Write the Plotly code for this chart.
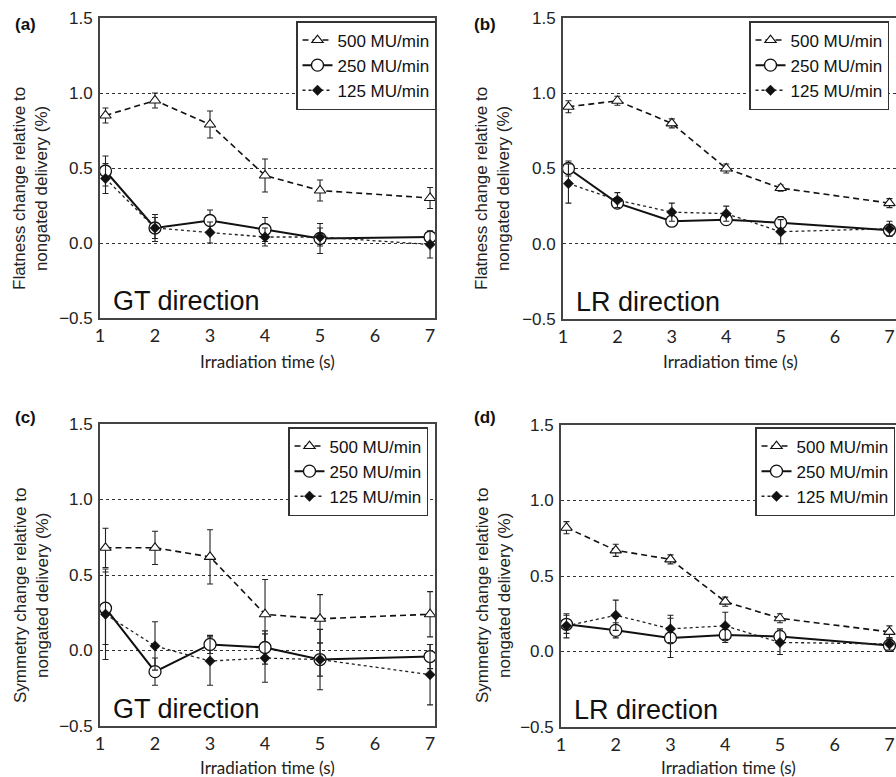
import plotly.graph_objects as go

# ---------------- data ----------------
time_s = [1.1, 2, 3, 4, 5, 7]
series_names = ["500 MU/min", "250 MU/min", "125 MU/min"]
x_ticks = [1, 2, 3, 4, 5, 6, 7]
y_ticks = [-0.5, 0.0, 0.5, 1.0, 1.5]

# (a) Flatness, GT direction
flat_gt_500 = [0.85, 0.95, 0.79, 0.45, 0.35, 0.30]
flat_gt_500_err = [0.05, 0.05, 0.09, 0.11, 0.07, 0.07]
flat_gt_250 = [0.48, 0.10, 0.15, 0.09, 0.03, 0.04]
flat_gt_250_err = [0.10, 0.09, 0.07, 0.08, 0.10, 0.04]
flat_gt_125 = [0.43, 0.10, 0.07, 0.04, 0.04, -0.01]
flat_gt_125_err = [0.10, 0.07, 0.07, 0.06, 0.06, 0.09]

# (b) Flatness, LR direction
flat_lr_500 = [0.91, 0.95, 0.80, 0.50, 0.37, 0.27]
flat_lr_500_err = [0.04, 0.03, 0.03, 0.03, 0.02, 0.03]
flat_lr_250 = [0.50, 0.27, 0.15, 0.16, 0.14, 0.09]
flat_lr_250_err = [0.05, 0.03, 0.03, 0.03, 0.04, 0.04]
flat_lr_125 = [0.40, 0.29, 0.21, 0.20, 0.08, 0.10]
flat_lr_125_err = [0.13, 0.05, 0.06, 0.05, 0.08, 0.05]

# (c) Symmetry, GT direction
sym_gt_500 = [0.68, 0.68, 0.62, 0.24, 0.21, 0.24]
sym_gt_500_err = [0.13, 0.11, 0.18, 0.23, 0.16, 0.15]
sym_gt_250 = [0.28, -0.14, 0.04, 0.02, -0.06, -0.04]
sym_gt_250_err = [0.24, 0.09, 0.06, 0.11, 0.11, 0.08]
sym_gt_125 = [0.24, 0.03, -0.07, -0.05, -0.06, -0.16]
sym_gt_125_err = [0.30, 0.16, 0.16, 0.16, 0.20, 0.20]

# (d) Symmetry, LR direction
sym_lr_500 = [0.82, 0.67, 0.61, 0.33, 0.22, 0.13]
sym_lr_500_err = [0.04, 0.04, 0.03, 0.03, 0.03, 0.04]
sym_lr_250 = [0.18, 0.14, 0.09, 0.11, 0.10, 0.04]
sym_lr_250_err = [0.06, 0.05, 0.13, 0.05, 0.05, 0.04]
sym_lr_125 = [0.17, 0.24, 0.15, 0.17, 0.06, 0.05]
sym_lr_125_err = [0.08, 0.10, 0.09, 0.09, 0.08, 0.04]

panel_letters = ["(a)", "(b)", "(c)", "(d)"]
direction_labels = ["GT direction", "LR direction", "GT direction", "LR direction"]
y_titles = ["Flatness change relative to<br>nongated delivery (%)",
            "Flatness change relative to<br>nongated delivery (%)",
            "Symmetry change relative to<br>nongated delivery (%)",
            "Symmetry change relative to<br>nongated delivery (%)"]
x_title = "Irradiation time (s)"

panels = [
    [(flat_gt_500, flat_gt_500_err), (flat_gt_250, flat_gt_250_err), (flat_gt_125, flat_gt_125_err)],
    [(flat_lr_500, flat_lr_500_err), (flat_lr_250, flat_lr_250_err), (flat_lr_125, flat_lr_125_err)],
    [(sym_gt_500, sym_gt_500_err), (sym_gt_250, sym_gt_250_err), (sym_gt_125, sym_gt_125_err)],
    [(sym_lr_500, sym_lr_500_err), (sym_lr_250, sym_lr_250_err), (sym_lr_125, sym_lr_125_err)],
]

# ---------------- layout geometry (pixels) ----------------
W, H = 896, 777
def px(x):
    return x / W
def py(y):
    return 1 - y / H

# plot boxes: left, right, top, bottom (px), x range end
boxes = [
    (100, 435, 18, 318, 7.09),
    (563, 896, 18, 319, 7.12),
    (100, 435, 424, 726, 7.09),
    (561, 896, 425, 727, 7.12),
]
legend_pos = [(436, 21), (889, 21), (428, 427), (895, 427)]
letter_pos = [(25, 24), (485, 24), (25, 417), (485, 417)]
ytitle_pos = [(31, 189), (493, 189), (31, 596), (493, 596)]
xtitle_y = [361, 361, 767, 767]

AR = "Arial, 'Liberation Sans', sans-serif"
CAL = "Lato, 'Open Sans', sans-serif"

styles = [
    dict(line=dict(color="#111", width=1.6, dash="6px,4px"),
         marker=dict(symbol="triangle-up", size=10, color="white",
                     line=dict(color="#111", width=1.1))),
    dict(line=dict(color="#111", width=2.0),
         marker=dict(symbol="circle", size=12, color="white",
                     line=dict(color="#111", width=1.3))),
    dict(line=dict(color="#222", width=1.3, dash="dot"),
         marker=dict(symbol="diamond", size=8, color="#111",
                     line=dict(color="#111", width=0.5))),
]

fig = go.Figure()
layout = dict(width=W, height=H, autosize=False,
              margin=dict(l=0, r=0, t=0, b=0, pad=0, autoexpand=False),
              paper_bgcolor="white", plot_bgcolor="white",
              showlegend=True, annotations=[])

for i, (box, data) in enumerate(zip(boxes, panels)):
    n = "" if i == 0 else str(i + 1)
    l, r, t, b, xend = box
    legname = "legend" + n
    for k, ((vals, errs), st) in enumerate(zip(data, styles)):
        fig.add_trace(go.Scatter(
            x=time_s, y=vals, name=series_names[k], mode="lines+markers",
            xaxis="x" + n, yaxis="y" + n, legend=legname,
            line=st["line"], marker=st["marker"],
            error_y=dict(type="data", array=errs, visible=True,
                         color="#222", thickness=1.1, width=3),
        ))
    full_box = (i % 2 == 0)
    layout["xaxis" + n] = dict(
        domain=[px(l), px(r)], range=[1, xend], anchor="y" + n,
        tickvals=x_ticks, ticktext=[str(v) for v in x_ticks],
        showgrid=False, zeroline=False, showline=True, linecolor="#444",
        linewidth=1.8, mirror=True, ticks="", ticklabelstandoff=0,
        ticklabeloverflow="allow",
        tickfont=dict(family=CAL, size=18, color="#222"),
    )
    layout["yaxis" + n] = dict(
        domain=[py(b), py(t)], range=[-0.5, 1.5], anchor="x" + n,
        tickvals=y_ticks, tickformat=".1f",
        showgrid=True, gridcolor="#333", gridwidth=1, griddash="3px,3px",
        zeroline=False, showline=True, linecolor="#444", linewidth=1.8,
        mirror=full_box, ticks="", ticklabelstandoff=2,
        tickfont=dict(family=AR, size=17, color="#222"),
    )
    lx, ly = legend_pos[i]
    layout[legname] = dict(
        x=px(lx), y=py(ly), xanchor="right", yanchor="top",
        xref="paper", yref="paper",
        bgcolor="white", bordercolor="#333", borderwidth=1.5,
        font=dict(family=AR, size=17, color="#111"),
        itemwidth=30, tracegroupgap=0,
    )
    ax, ay = letter_pos[i]
    layout["annotations"].append(dict(
        x=px(ax), y=py(ay), xref="paper", yref="paper", text="<b>" + panel_letters[i] + "</b>",
        showarrow=False, xanchor="center", yanchor="middle",
        font=dict(family=AR, size=17, color="#111")))
    tx, ty = ytitle_pos[i]
    layout["annotations"].append(dict(
        x=px(tx), y=py(ty), xref="paper", yref="paper", text=y_titles[i],
        showarrow=False, xanchor="center", yanchor="middle", textangle=-90,
        font=dict(family=AR, size=17, color="#222")))
    layout["annotations"].append(dict(
        x=(px(l) + px(r)) / 2 if i % 2 == 0 else (px(l) + px(l) + 335 / W) / 2,
        y=py(xtitle_y[i]), xref="paper", yref="paper", text=x_title,
        showarrow=False, xanchor="center", yanchor="middle",
        font=dict(family=CAL, size=17, color="#222")))
    layout["annotations"].append(dict(
        x=px(l + 11), y=py(b - 17), xref="paper", yref="paper", text=direction_labels[i],
        showarrow=False, xanchor="left", yanchor="middle",
        font=dict(family=AR, size=27, color="#111")))

fig.update_layout(**layout)
fig.write_html(
    "out.html",
    config={"displayModeBar": False},
    post_script="document.body.style.margin='0';document.body.style.overflow='hidden';"
                "document.documentElement.style.overflow='hidden';",
)
